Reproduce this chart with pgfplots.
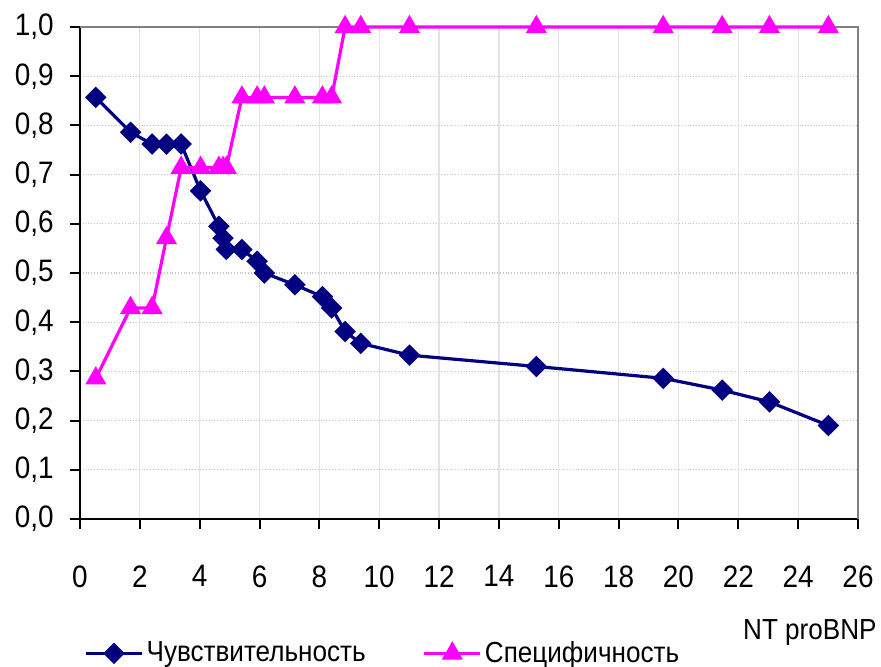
\documentclass[border=0pt]{standalone}
\usepackage{fontspec}
\setmainfont{Liberation Sans}[FakeStretch=0.9]
\usepackage{pgfplots}
\pgfplotsset{compat=1.18}
\usepackage{pgfplotstable}

\definecolor{sensblue}{HTML}{000080}
\definecolor{specmag}{HTML}{FF00FF}

% cut-off value, sensitivity, specificity
\pgfplotstableread{
x     sens   spec
0.53  0.857  0.286
1.69  0.786  0.429
2.41  0.762  0.429
2.89  0.762  0.571
3.38  0.762  0.714
4.03  0.667  0.714
4.64  0.595  0.714
4.78  0.571  0.714
4.89  0.548  0.714
5.41  0.548  0.857
5.92  0.524  0.857
6.16  0.500  0.857
7.18  0.476  0.857
8.10  0.452  0.857
8.41  0.429  0.857
8.86  0.381  1.000
9.38  0.357  1.000
11.01 0.333  1.000
15.25 0.310  1.000
19.49 0.286  1.000
21.46 0.262  1.000
23.04 0.238  1.000
25.01 0.190  1.000
}\rocdata

\begin{document}
\begin{tikzpicture}
\useasboundingbox (-40pt,-73.5pt) rectangle (400.5pt,259.5pt);
\clip (-40pt,-73.5pt) rectangle (400.5pt,259.5pt);
\begin{axis}[
  scale only axis, width=389pt, height=246pt,
  xmin=0, xmax=26, ymin=0, ymax=1,
  xtick={0,2,4,6,8,10,12,14,16,18,20,22,24,26},
  ytick={0,0.1,0.2,0.3,0.4,0.5,0.6,0.7,0.8,0.9,1.0},
  axis x line*=bottom, axis y line*=left,
  axis line style={line width=1pt, black, -},
  tick align=outside, major tick length=5pt,
  tick style={line width=1pt, black},
  xmajorgrids, ymajorgrids,
  x grid style={gray!22, line width=0.6pt},
  y grid style={gray!45, densely dotted, line width=0.6pt},
  clip=false,
  /pgf/number format/assume math mode=true,
  y tick label style={/pgf/number format/use comma, /pgf/number format/fixed,
    /pgf/number format/fixed zerofill, /pgf/number format/precision=1},
  ticklabel style={font=\fontsize{15.5}{18}\selectfont, inner sep=0pt},
  xticklabel style={yshift=-18pt},
  yticklabel style={xshift=-8pt},
  xlabel={NT proBNP},
  xlabel style={at={(axis description cs:1.0244,-0.2459)}, anchor=base east,
    inner sep=0pt, font=\fontsize{14.5}{17}\selectfont},
  legend columns=2,
  legend style={at={(axis description cs:0,0)}, anchor=west, xshift=2pt, yshift=-67.2pt,
    draw=none, fill=none, inner sep=0pt, font=\fontsize{14.5}{17}\selectfont,
    nodes={inner sep=1.5pt},
    /tikz/every even column/.append style={column sep=27pt}},
  legend image code/.code={\draw[mark repeat=2,mark phase=2]
    plot coordinates {(0pt,0pt) (14pt,0pt) (28pt,0pt)};},
]
\draw[gray, line width=1pt] (rel axis cs:0,1) -- (rel axis cs:1,1) -- (rel axis cs:1,0);
\addplot[sensblue, line width=1.6pt, mark=square*, mark size=3pt,
  mark options={rotate=45, solid, fill=sensblue, draw=sensblue}]
  table[x=x, y=sens] {\rocdata};
\addlegendentry{Чувствительность}
\addplot[specmag, line width=1.6pt, mark=triangle*, mark size=4.5pt,
  mark options={solid, fill=specmag, draw=specmag}]
  table[x=x, y=spec] {\rocdata};
\addlegendentry{Специфичность}
\end{axis}
\end{tikzpicture}
\end{document}
